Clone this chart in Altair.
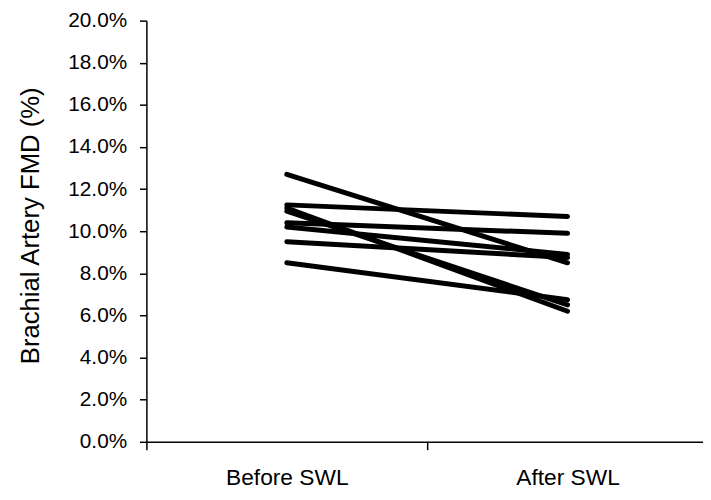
import altair as alt
import pandas as pd

phases = ["Before SWL", "After SWL"]
before_vals = [0.127, 0.1125, 0.111, 0.1095, 0.104, 0.102, 0.095, 0.085]
after_vals = [0.085, 0.107, 0.062, 0.065, 0.099, 0.089, 0.0875, 0.0675]
y_ticks = [0.0, 0.02, 0.04, 0.06, 0.08, 0.10, 0.12, 0.14, 0.16, 0.18, 0.20]

rows = []
for i, (b, a) in enumerate(zip(before_vals, after_vals)):
    rows.append({"subject": i, "phase": phases[0], "fmd": b})
    rows.append({"subject": i, "phase": phases[1], "fmd": a})
df = pd.DataFrame(rows)

FONT = "Liberation Sans"

chart = alt.Chart(df).mark_line(
    color="black", strokeWidth=5, strokeCap="round"
).encode(
    x=alt.X(
        "phase:N",
        sort=phases,
        scale=alt.Scale(type="band", range=[0, 568], paddingInner=0, paddingOuter=0),
        axis=alt.Axis(
            title=None, labelAngle=0, tickBand="extent", grid=False,
            domainColor="black", domainWidth=1.5, tickColor="black", tickWidth=1.5,
            tickSize=8, labelFont=FONT, labelFontSize=23, labelColor="black",
            labelBaseline="alphabetic", labelPadding=35,
        ),
    ),
    y=alt.Y(
        "fmd:Q",
        scale=alt.Scale(domain=[0, 0.2], nice=False),
        axis=alt.Axis(
            values=y_ticks, format=".1%", grid=False,
            title="Brachial Artery FMD (%)", titleFont=FONT, titleFontSize=26,
            titleFontWeight="normal", titleColor="black",
            titleBaseline="alphabetic", titleX=-109, titleY=207,
            domainColor="black", domainWidth=1.5, tickColor="black", tickWidth=1.5,
            tickSize=7, labelFont=FONT, labelFontSize=21, labelColor="black",
            labelPadding=13,
        ),
    ),
    detail="subject:N",
).properties(
    width=563,
    height=426,
    autosize=alt.AutoSizeParams(type="none"),
    padding={"left": 140, "top": 10, "right": 0, "bottom": 48},
).configure_view(stroke=None)

chart.save("out.html", embed_options={"renderer": "svg", "actions": False})
